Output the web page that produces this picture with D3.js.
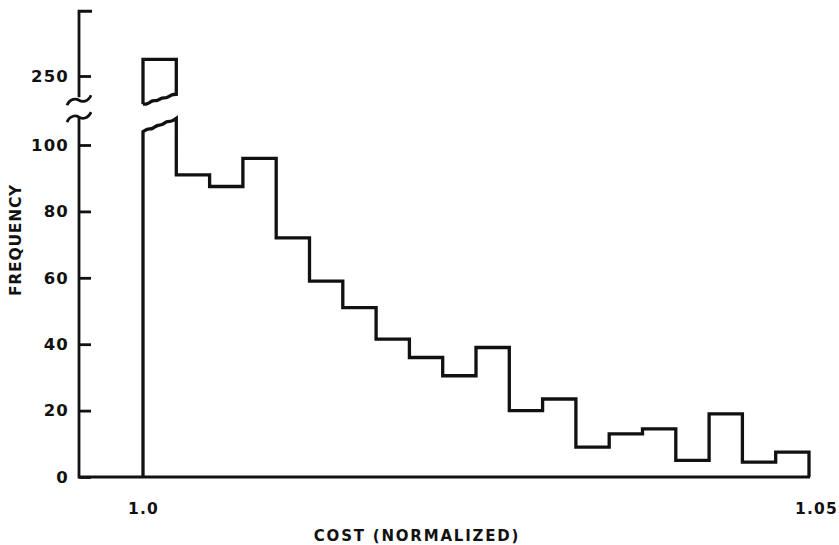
<!DOCTYPE html>
<html>
<head>
<meta charset="utf-8">
<script src="https://cdn.jsdelivr.net/npm/d3@7"></script>
<style>
  html, body { margin: 0; padding: 0; background: #fff; }
  svg { display: block; }
  text { font-family: "DejaVu Sans", sans-serif; font-weight: bold; fill: #111; }
</style>
</head>
<body>
<svg id="chart" width="839" height="545"></svg>
<script>
// ---- data ----
const binEdges = [1.0, 1.0025, 1.005, 1.0075, 1.01, 1.0125, 1.015, 1.0175, 1.02, 1.0225,
                  1.025, 1.0275, 1.03, 1.0325, 1.035, 1.0375, 1.04, 1.0425, 1.045, 1.0475, 1.05];
const frequency = [255, 91, 87.5, 96, 72, 59, 51, 41.5, 36, 30.5,
                   39, 20, 23.5, 9, 13, 14.5, 5, 19, 4.5, 7.5];
const yTicksLower = [0, 20, 40, 60, 80, 100];
const yTicksUpper = [250];
const xTicks = [1.0, 1.05];
const xTickLabels = ["1.0", "1.05"];
const lowerMax = 109;      // top of lower axis segment
const upperMin = 243;      // bottom of upper axis segment
const upperMax = 269.5;    // top cap of axis
const barBreakLower = [104, 108];     // wavy top of the lower piece (left, right)
const barBreakUpper = [241.5, 244.5]; // wavy bottom of the upper piece (left, right)

// ---- scales ----
const svg = d3.select("#chart");
const axisX = 79;
const x = d3.scaleLinear().domain([1.0, 1.05]).range([143, 809]);
const yLow = d3.scaleLinear().domain([0, 100]).range([477, 145]);
const pxPerUnit = (yLow(0) - yLow(100)) / 100;
const yUp = d3.scaleLinear().domain([250, 270]).range([76, 76 - 20 * pxPerUnit]);

const stroke = "#111";
const axisW = 2.8;

function styleTicks(g, size) {
  g.select(".domain").remove();
  g.selectAll(".tick line").attr("stroke", stroke).attr("stroke-width", axisW);
  g.selectAll(".tick text").attr("font-size", size).attr("letter-spacing", 1.2)
    .style("font-family", "DejaVu Sans").style("font-weight", "bold").attr("fill", "#111");
}

// ---- y axis (lower) ----
const gLow = svg.append("g").attr("transform", `translate(${axisX},0)`)
  .call(d3.axisLeft(yLow).tickValues(yTicksLower).tickSizeInner(-12).tickSizeOuter(0).tickPadding(10));
styleTicks(gLow, 16.5);

// ---- y axis (upper) ----
const gUp = svg.append("g").attr("transform", `translate(${axisX},0)`)
  .call(d3.axisLeft(yUp).tickValues(yTicksUpper).tickSizeInner(-12).tickSizeOuter(0).tickPadding(10));
styleTicks(gUp, 16.5);

// axis lines
svg.append("path")
  .attr("d", `M${axisX + 13},${yUp(upperMax)} H${axisX} V${yUp(upperMin) - 2}`)
  .attr("fill", "none").attr("stroke", stroke).attr("stroke-width", axisW);
svg.append("path")
  .attr("d", `M${axisX},${yLow(lowerMax) + 2} V${yLow(0)} H${x(1.05) + 1}`)
  .attr("fill", "none").attr("stroke", stroke).attr("stroke-width", axisW);

// axis break squiggles
function squiggle(cy) {
  return `M${axisX - 12},${cy + 5} C${axisX - 9},${cy - 2} ${axisX - 3},${cy - 2} ${axisX},${cy}` +
         ` C${axisX + 3},${cy + 2} ${axisX + 9},${cy + 2} ${axisX + 12},${cy - 5}`;
}
svg.append("path").attr("d", squiggle(yUp(upperMin) + 1))
  .attr("fill", "none").attr("stroke", stroke).attr("stroke-width", axisW);
svg.append("path").attr("d", squiggle(yLow(lowerMax) + 2))
  .attr("fill", "none").attr("stroke", stroke).attr("stroke-width", axisW);

// ---- x axis labels ----
const gx = svg.append("g").attr("transform", `translate(0,${yLow(0)})`)
  .call(d3.axisBottom(x).tickValues(xTicks).tickFormat((d, i) => xTickLabels[i]).tickSize(0).tickPadding(26));
styleTicks(gx, 15.5);
gx.selectAll(".tick text").filter((d, i) => i === 1).attr("dx", 7);

// axis titles
svg.append("text").attr("x", 417).attr("y", 541).attr("text-anchor", "middle")
  .attr("font-size", 15).attr("letter-spacing", 1.8).text("COST (NORMALIZED)");
svg.append("text").attr("transform", "translate(21,240) rotate(-90)").attr("text-anchor", "middle")
  .attr("font-size", 15.5).attr("letter-spacing", 0.8).text("FREQUENCY");

// ---- histogram ----
function wavy(x0, y0, x1, y1) {
  const n = 7, pts = [];
  for (let i = 0; i <= n; i++) {
    const t = i / n;
    const off = (i % 2 === 0 ? 1.3 : -1.3) * (i === 0 || i === n ? 0 : 1);
    pts.push([x0 + (x1 - x0) * t, y0 + (y1 - y0) * t + off]);
  }
  return pts;
}
const lineGen = d3.line().curve(d3.curveBasis);

// lower part of histogram
let d = `M${x(binEdges[0])},${yLow(0)} V${yLow(barBreakLower[0])}`;
const wl = wavy(x(binEdges[0]), yLow(barBreakLower[0]), x(binEdges[1]), yLow(barBreakLower[1]));
d += lineGen(wl).replace(/^M[^C]*/, "L" + wl[0][0] + "," + wl[0][1]);
for (let i = 1; i < frequency.length; i++) {
  d += ` V${yLow(frequency[i])} H${x(binEdges[i + 1])}`;
}
d += ` V${yLow(0)}`;
svg.append("path").attr("d", d).attr("fill", "none").attr("stroke", stroke)
  .attr("stroke-width", 3.3).attr("stroke-linejoin", "miter");

// upper part of the first (broken) bar
const wu = wavy(x(binEdges[1]), yUp(barBreakUpper[1]), x(binEdges[0]), yUp(barBreakUpper[0]));
let du = `M${x(binEdges[0])},${yUp(barBreakUpper[0])} V${yUp(frequency[0])} H${x(binEdges[1])} V${yUp(barBreakUpper[1])}`;
du += lineGen(wu).replace(/^M[^C]*/, "L" + wu[0][0] + "," + wu[0][1]);
svg.append("path").attr("d", du).attr("fill", "none").attr("stroke", stroke)
  .attr("stroke-width", 3.3).attr("stroke-linejoin", "miter");
</script>
</body>
</html>
